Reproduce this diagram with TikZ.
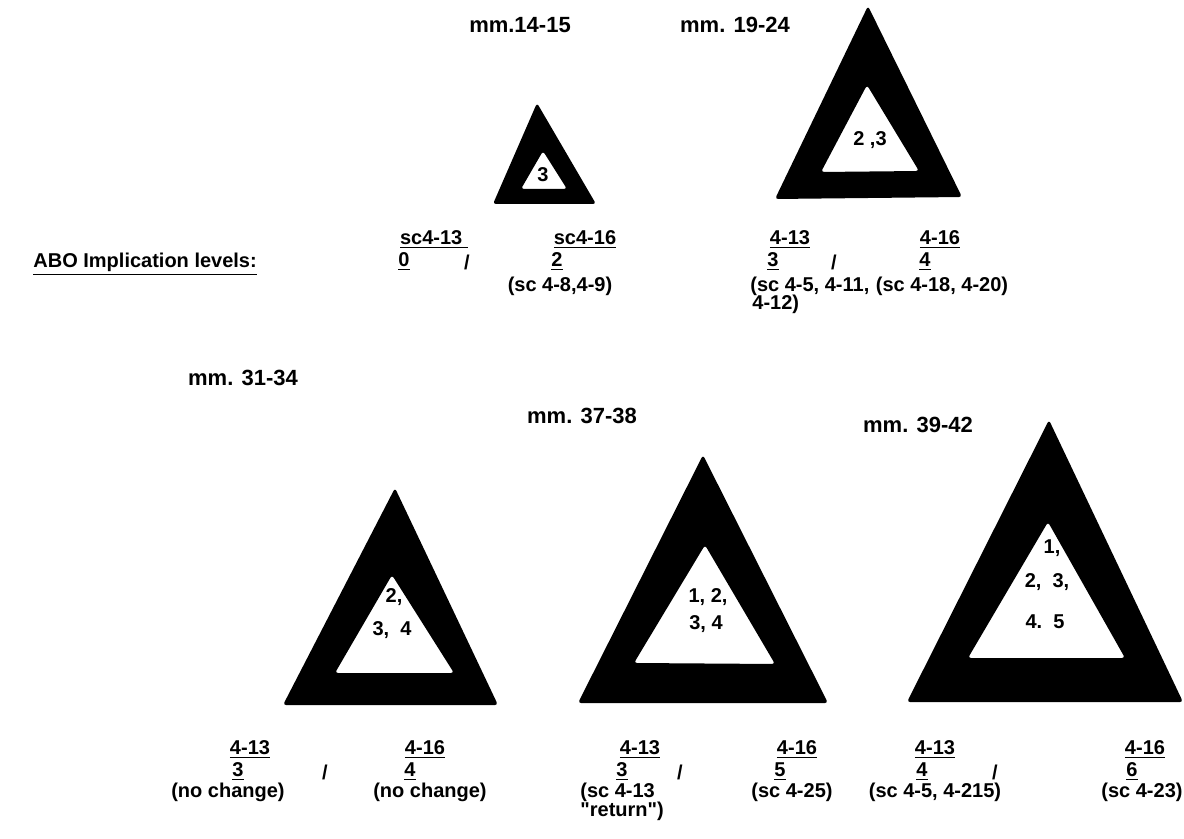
\documentclass[tikz,border=0pt]{standalone}
\usepackage{fontspec}
\setmainfont{Liberation Sans}
\definecolor{ink}{RGB}{0,0,0}
\tikzset{abo/.style={x=0.5pt,y=-0.5pt,font=\bfseries\fontsize{10}{12}\selectfont},
  lbl/.style={inner sep=0pt,text=ink},
  ttl/.style={inner sep=0pt,text=ink,font=\bfseries\fontsize{11}{13}\selectfont},
  wedge/.style={fill=ink,even odd rule,rounded corners=1.5pt}}

\begin{document}
\begin{tikzpicture}[abo]
    \useasboundingbox (0,0) rectangle (1184,839);
    % triangles: outer shape, then the white hole
    \fill[wedge] (537,103) -- (493,204) -- (596,204) -- cycle (543,151) -- (521,189) -- (567,189) -- cycle;
    \fill[wedge] (868,6) -- (775,199) -- (962,197) -- cycle (867,85) -- (821,172) -- (919,171) -- cycle;
    \fill[wedge] (395,488) -- (283,705) -- (498,705) -- cycle (392,575) -- (335,673) -- (454,673) -- cycle;
    \fill[wedge] (703,455) -- (578,703) -- (828,703) -- cycle (705,545) -- (634,663) -- (775,664) -- cycle;
    \fill[wedge] (1049,420) -- (907,702) -- (1183,702) -- cycle (1048,522) -- (968,658) -- (1125,658) -- cycle;
    \node[lbl] (in1) at (543,175) {3};
    \node[lbl] (in2) at (870,140) {2 ,3};
    \node[lbl] (in3a) at (394,597) {2,};
    \node[lbl] (in3b) at (392,630) {3,\ \ 4};
    \node[lbl] (in4a) at (708,597) {1, 2,};
    \node[lbl] (in4b) at (706,624) {3, 4};
    \node[lbl] (in5a) at (1052,548) {1,};
    \node[lbl] (in5b) at (1047,582) {2,\ \ 3,};
    \node[lbl] (in5c) at (1045,622) {4.\ \ 5};
    % titles
    \node[ttl] (mm1415) at (520,25) {mm.14-15};
    \node[ttl] (mm1924) at (735,25) {mm. 19-24};
    \node[ttl] (mm3134) at (243,378) {mm. 31-34};
    \node[ttl] (mm3738) at (582,416) {mm. 37-38};
    \node[ttl] (mm3942) at (918,425) {mm. 39-42};
    \node[lbl,anchor=west] (levels) at (33,264) {\underline{ABO Implication levels:}};
    % top row levels
    \node[lbl] (a13) at (434,240) {\underline{sc4-13\ }};
    \node[lbl] (a13v) at (404,262) {\underline{0}};
    \node[lbl] (asl) at (467,262) {/};
    \node[lbl] (a16) at (585,240) {\underline{sc4-16}};
    \node[lbl] (a16v) at (557,262) {\underline{2}};
    \node[lbl] (a16s) at (560,286) {(sc 4-8,4-9)};
    \node[lbl] (b13) at (790,240) {\underline{4-13}};
    \node[lbl] (b13v) at (773,262) {\underline{3}};
    \node[lbl] (bsl) at (834,262) {/};
    \node[lbl,anchor=west] (b13s) at (750,286) {(sc 4-5, 4-11,};
    \node[lbl,anchor=west] (b13t) at (752,304) {4-12)};
    \node[lbl] (b16) at (940,240) {\underline{4-16}};
    \node[lbl] (b16v) at (925,262) {\underline{4}};
    \node[lbl] (b16s) at (942,286) {(sc 4-18, 4-20)};
    % bottom row levels
    \node[lbl] (c13) at (250,750) {\underline{4-13}};
    \node[lbl] (c13v) at (238,772) {\underline{3}};
    \node[lbl] (csl) at (325,772) {/};
    \node[lbl] (c13s) at (228,792) {(no change)};
    \node[lbl] (c16) at (425,750) {\underline{4-16}};
    \node[lbl] (c16v) at (410,772) {\underline{4}};
    \node[lbl] (c16s) at (430,792) {(no change)};
    \node[lbl] (d13) at (640,750) {\underline{4-13}};
    \node[lbl] (d13v) at (622,772) {\underline{3}};
    \node[lbl] (dsl) at (680,772) {/};
    \node[lbl,anchor=west] (d13s) at (580,792) {(sc 4-13};
    \node[lbl,anchor=west] (d13t) at (580,811) {\textquotedbl return\textquotedbl)};
    \node[lbl] (d16) at (797,750) {\underline{4-16}};
    \node[lbl] (d16v) at (780,772) {\underline{5}};
    \node[lbl] (d16s) at (792,792) {(sc 4-25)};
    \node[lbl] (e13) at (935,750) {\underline{4-13}};
    \node[lbl] (e13v) at (922,772) {\underline{4}};
    \node[lbl] (esl) at (995,772) {/};
    \node[lbl] (e13s) at (935,792) {(sc 4-5, 4-215)};
    \node[lbl] (e16) at (1145,750) {\underline{4-16}};
    \node[lbl] (e16v) at (1132,772) {\underline{6}};
    \node[lbl] (e16s) at (1142,792) {(sc 4-23)};
\end{tikzpicture}
\end{document}
